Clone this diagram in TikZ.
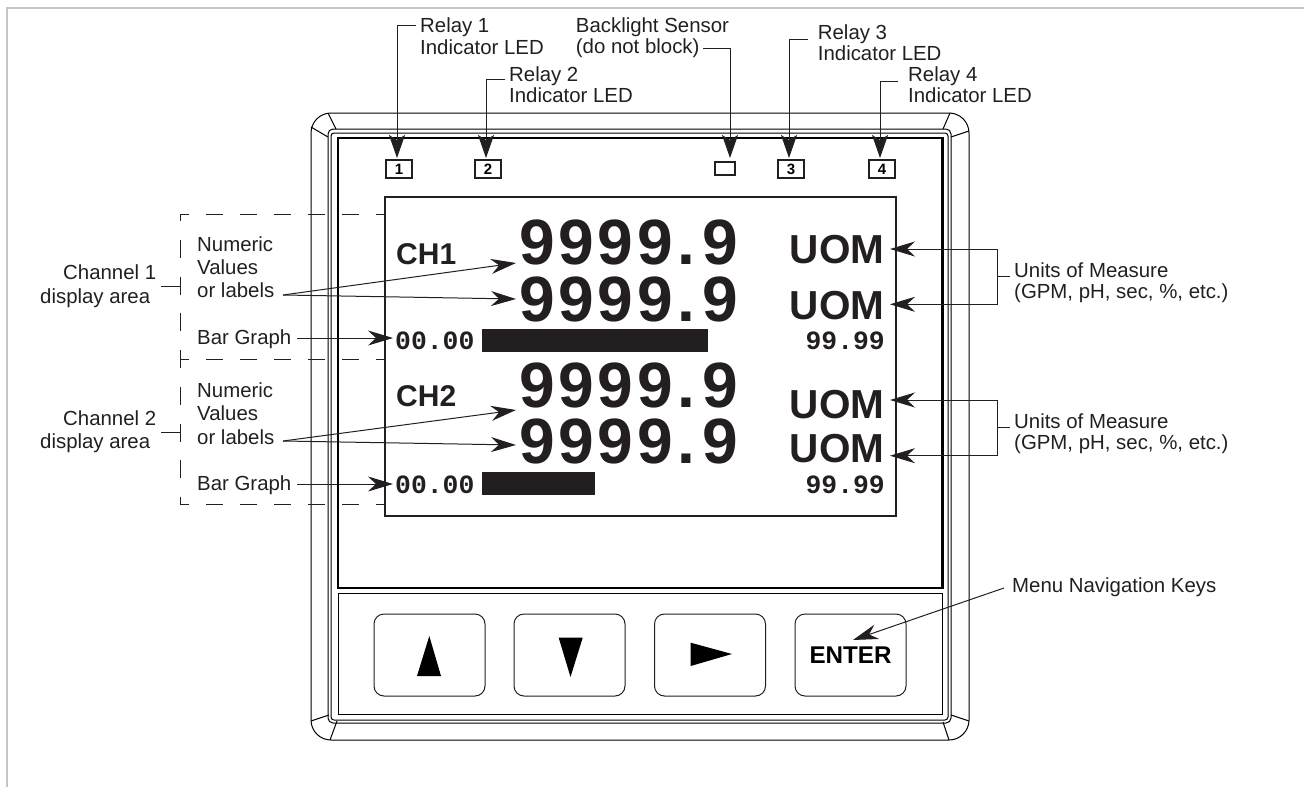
\documentclass[tikz,border=0pt]{standalone}
\usepackage{fontspec}
\setmainfont{Liberation Sans}
\newfontfamily\monob{Liberation Mono}[BoldFont={Liberation Mono Bold}]
\usetikzlibrary{arrows.meta}
\definecolor{ink}{HTML}{231F20}
\newcommand{\bigfont}{\fontsize{64}{64}\selectfont\bfseries}
\newcommand{\cell}[1]{\makebox[39.3pt][l]{#1}}
\newcommand{\bigval}{\bigfont\cell{9}\cell{9}\cell{9}\cell{9}\hspace{1.5pt}.\hspace{6.7pt}9}
\tikzset{
  lab/.style={anchor=base west,inner sep=0,font=\fontsize{20.4}{22}\selectfont,text=ink},
  bigv/.style={anchor=base west,inner sep=0,text=ink},
  uom/.style={anchor=base east,inner sep=0,text=ink,font=\fontsize{40.5}{40}\selectfont\bfseries},
  chan/.style={anchor=base west,inner sep=0,text=ink,font=\fontsize{30}{30}\selectfont\bfseries},
  small/.style={inner sep=0,text=ink,font=\fontsize{26.4}{27}\selectfont\monob\bfseries},
  led/.style={draw=ink,line width=1.2pt,inner sep=0,minimum width=26pt,minimum height=18pt,font=\fontsize{15}{15}\selectfont\bfseries},
  keybox/.style={draw=ink,line width=1pt,rounded corners=10pt,inner sep=0,minimum width=111pt,minimum height=82pt},
  bez/.style={draw=black,line width=1pt},
  lead/.style={draw=ink,line width=1pt},
  arr/.style={lead,-{Stealth[length=25pt,width=15pt,inset=8pt]}},
  arrt/.style={lead,-{Stealth[length=23pt,width=16pt,inset=5pt]}},
  dsh/.style={draw=ink,line width=1pt,dash pattern=on 17pt off 17pt,dash phase=8pt},
  dshv/.style={draw=ink,line width=1pt,dash pattern=on 18pt off 18.7pt},
}
\begin{document}
\begin{tikzpicture}[x=1pt,y=-1pt]
\useasboundingbox (0,0) rectangle (1304,787);
% page frame
\draw[draw=black!22,line width=1.5pt] (7,787) -- (7,8) -- (1304,8);
% bezel
\draw[bez,rounded corners=20pt] (311,113) rectangle (969,740);
\draw[bez,rounded corners=5pt] (328,129) rectangle (951,723);
\draw[bez,rounded corners=3pt] (331,133) rectangle (948,720);
\draw[draw=black,line width=2.6pt] (338,138) rectangle (942.5,588);
\draw[bez] (338,593) rectangle (942.5,714);
\draw[bez] (328,113) -- (336,129) (311,127) -- (328,137);
\draw[bez] (950,113) -- (943,129) (969,131) -- (951,137);
\draw[bez] (311,721) -- (329,715) (330,740) -- (337,721);
\draw[bez] (969,721) -- (951,715) (949,740) -- (943,722);
% dashed channel areas
\draw[dsh] (180,214) -- (385,214);
\draw[dsh] (180,359) -- (385,359);
\draw[dsh] (180,504) -- (385,504);
\draw[dshv] (180,214) -- (180,221);
\draw[dshv] (180,240) -- (180,504);
\coordinate (t1a) at (161,286); \coordinate (t1b) at (180,286);
\coordinate (t2a) at (161,432); \coordinate (t2b) at (180,432);
\draw[lead] (t1a) -- (t1b);
\draw[lead] (t2a) -- (t2b);
% display
\node[draw=ink,line width=1.2pt,fill=none,minimum width=511pt,minimum height=319pt,inner sep=0] (disp) at (640.5,356.5) {};
\fill[ink] (482,329) rectangle (708,352);
\fill[ink] (482,472) rectangle (595,495);
\node[chan] (ch1) at (396,264) {CH1};
\node[chan] (ch2) at (396,406) {CH2};
\node[bigv] (v1) at (519,264) {\bigval};
\node[bigv] (v2) at (519,321) {\bigval};
\node[bigv] (v3) at (519,407) {\bigval};
\node[bigv] (v4) at (519,463) {\bigval};
\node[uom] (u1) at (884.5,263) {UOM};
\node[uom] (u2) at (884.5,319) {UOM};
\node[uom] (u3) at (884.5,418) {UOM};
\node[uom] (u4) at (884.5,462) {UOM};
\node[small,anchor=base west] (a1) at (395,349) {00.00};
\node[small,anchor=base west] (a2) at (395,493) {00.00};
\node[small,anchor=base east] (b1) at (885,349) {99.99};
\node[small,anchor=base east] (b2) at (885,493) {99.99};
% LEDs
\node[led] (l1) at (399,169) {1};
\node[led] (l2) at (488,169) {2};
\node[led,minimum width=20pt,minimum height=13pt] (bl) at (725,168.5) {};
\node[led] (l3) at (791,169) {3};
\node[led] (l4) at (882,169) {4};
% keys
\node[keybox] (k1) at (429.5,655) {};
\node[keybox] (k2) at (569.5,655) {};
\node[keybox] (k3) at (710,655) {};
\node[keybox,font=\fontsize{24.2}{24}\selectfont\bfseries,text=black] (k4) at (850.5,655) {ENTER};
\fill[black] (429.3,636) -- (441,676) -- (417,676) -- cycle;
\fill[black] (558.7,637.7) -- (582.7,637.7) -- (570.5,677) -- cycle;
\fill[black] (690.7,642.7) -- (732,654) -- (690.7,666) -- cycle;
% top labels
\node[lab] (r1) at (420,32) {Relay 1};
\node[lab] (r1b) at (420,54.5) {Indicator LED};
\node[lab] (r2) at (509,81) {Relay 2};
\node[lab] (r2b) at (509,102) {Indicator LED};
\node[lab] (bs) at (575.7,32) {Backlight Sensor};
\node[lab] (bsb) at (575.7,53) {(do not block)};
\node[lab] (r3) at (817.7,39.5) {Relay 3};
\node[lab] (r3b) at (817.7,60.5) {Indicator LED};
\node[lab] (r4) at (908,81) {Relay 4};
\node[lab] (r4b) at (908,102) {Indicator LED};
\coordinate (s1) at (416,25); \coordinate (e1) at (397,158);
\coordinate (s2) at (505,79); \coordinate (e2) at (486,158);
\coordinate (s3) at (703,48); \coordinate (e3) at (730,158);
\coordinate (s4) at (808,39); \coordinate (e4) at (789,158);
\coordinate (s5) at (898,81); \coordinate (e5) at (880,158);
\draw[arrt] (s1) -| (e1);
\draw[arrt] (s2) -| (e2);
\draw[arrt] (s3) -| (e3);
\draw[arrt] (s4) -| (e4);
\draw[arrt] (s5) -| (e5);
% left labels
\node[lab] (c1) at (63,279) {Channel 1};
\node[lab] (c1b) at (40,303) {display area};
\node[lab] (c2) at (63,425) {Channel 2};
\node[lab] (c2b) at (40,448) {display area};
\node[lab] (n1) at (197,251) {Numeric};
\node[lab] (n1b) at (197,274) {Values};
\node[lab] (n1c) at (197,297.5) {or labels};
\node[lab] (g1) at (197,344) {Bar Graph};
\node[lab] (n2) at (197,397) {Numeric};
\node[lab] (n2b) at (197,420.5) {Values};
\node[lab] (n2c) at (197,444) {or labels};
\node[lab] (g2) at (197,490) {Bar Graph};
\coordinate (ns1) at (283,295); \coordinate (ne1) at (516,263); \coordinate (ne2) at (516,299);
\coordinate (ns2) at (283,441); \coordinate (ne3) at (516,410); \coordinate (ne4) at (516,445);
\draw[arr] (ns1) -- (ne1);
\draw[arr] (ns1) -- (ne2);
\draw[arr] (ns2) -- (ne3);
\draw[arr] (ns2) -- (ne4);
\coordinate (gs1) at (297,338); \coordinate (ge1) at (393,338);
\coordinate (gs2) at (297,484); \coordinate (ge2) at (393,484);
\draw[arr] (gs1) -- (ge1);
\draw[arr] (gs2) -- (ge2);
% right labels
\node[lab] (um1) at (1014,277) {Units of Measure};
\node[lab] (um1b) at (1014,298) {(GPM, pH, sec, \%, etc.)};
\node[lab] (um2) at (1014,428) {Units of Measure};
\node[lab] (um2b) at (1014,449) {(GPM, pH, sec, \%, etc.)};
\coordinate (bt1) at (997.7,249); \coordinate (bb1) at (997.7,304.3); \coordinate (bm1) at (997.7,276.7); \coordinate (bx1) at (1010,276.7);
\coordinate (bt2) at (997.7,400); \coordinate (bb2) at (997.7,455.7); \coordinate (bm2) at (997.7,427.7); \coordinate (bx2) at (1010,427.7);
\coordinate (ut1) at (890,249); \coordinate (ut2) at (890,304.3); \coordinate (ut3) at (890,400); \coordinate (ut4) at (890,455.7);
\draw[arr] (bt1) -- (ut1);
\draw[arr] (bb1) -- (ut2);
\draw[arr] (bt2) -- (ut3);
\draw[arr] (bb2) -- (ut4);
\draw[lead] (bt1) -- (bb1) (bm1) -- (bx1);
\draw[lead] (bt2) -- (bb2) (bm2) -- (bx2);
% menu
\node[lab] (menu) at (1012,592.7) {Menu Navigation Keys};
\coordinate (ms) at (1004,588); \coordinate (me) at (853,640);
\draw[arr] (ms) -- (me);
\end{tikzpicture}
\end{document}
